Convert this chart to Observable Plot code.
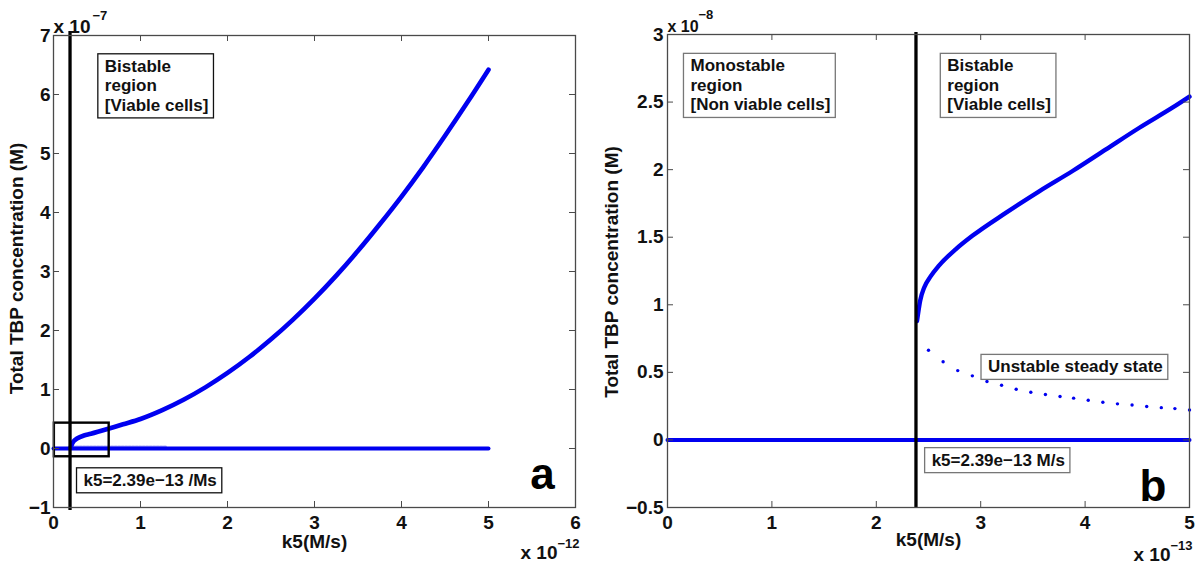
<!DOCTYPE html>
<html><head><meta charset="utf-8">
<script src="https://cdn.jsdelivr.net/npm/d3@7"></script>
<script src="https://cdn.jsdelivr.net/npm/@observablehq/plot@0.6"></script>
<style>
html,body{margin:0;padding:0;background:#fff;}
body{width:1200px;height:578px;position:relative;overflow:hidden;font-family:"Liberation Sans",Arial,sans-serif;}
#pa,#pb{position:absolute;top:0;}
#pa{left:0;} #pb{left:600px;}
</style></head><body>
<div id="pa"></div><div id="pb"></div>
<script>
// ---------- Data (x in units of 1e-12 / 1e-13 M/s, y in units of 1e-7 / 1e-8 M) ----------
// Panel a
const aXTicks = [0, 1, 2, 3, 4, 5, 6];
const aYTicks = [-1, 0, 1, 2, 3, 4, 5, 6, 7];
const aUpperK   = [0.20, 0.23, 0.27, 0.35, 0.43, 0.62, 0.80, 1.00, 1.25, 1.50, 1.75, 2.00, 2.25, 2.50, 2.75, 3.00, 3.25, 3.50, 3.75, 4.00, 4.25, 4.50, 4.75, 5.00];
const aUpperTBP = [0.03, 0.12, 0.17, 0.22, 0.25, 0.33, 0.41, 0.50, 0.65, 0.83, 1.04, 1.28, 1.55, 1.85, 2.18, 2.54, 2.93, 3.35, 3.80, 4.27, 4.77, 5.30, 5.85, 6.42];
const aLowerK   = [0, 5];
const aLowerTBP = [0, 0];
const aFaintK   = [0.22, 1.30];
const aFaintTBP = [0.03, 0.03];
const aThreshold = 0.19;
const aZoomBox = {x1: 0.01, x2: 0.64, y1: -0.14, y2: 0.43};
const aRegionLabel = "Bistable\nregion\n[Viable cells]";
const aRegionPos = {x: 0.59, y: 6.62};
const aK5Label = "k5=2.39e\u221213 /Ms";
const aK5Pos = {x: 0.345, y: -0.54};
const aLetter = "a", aLetterPos = {x: 5.62, y: -0.69};
const aYExp = "\u22127", aXExp = "\u221212";

// Panel b
const bXTicks = [0, 1, 2, 3, 4, 5];
const bYTicks = [-0.5, 0, 0.5, 1, 1.5, 2, 2.5, 3];
const bUpperK   = [2.39, 2.42, 2.46, 2.52, 2.60, 2.76, 2.92, 3.24, 3.56, 3.88, 4.20, 4.52, 4.84, 5.00];
const bUpperTBP = [0.88, 1.03, 1.13, 1.21, 1.29, 1.41, 1.51, 1.68, 1.84, 1.99, 2.15, 2.31, 2.46, 2.54];
const bUnstableK   = [2.50, 2.64, 2.78, 2.92, 3.06, 3.20, 3.34, 3.48, 3.62, 3.76, 3.89, 4.03, 4.17, 4.31, 4.45, 4.59, 4.73, 4.86, 5.00];
const bUnstableTBP = [0.664, 0.578, 0.513, 0.474, 0.432, 0.405, 0.375, 0.353, 0.336, 0.321, 0.309, 0.294, 0.279, 0.267, 0.259, 0.247, 0.239, 0.232, 0.222];
const bLowerK   = [0, 5];
const bLowerTBP = [0, 0];
const bThreshold = 2.38;
const bMonoLabel = "Monostable\nregion\n[Non viable cells]";
const bMonoPos = {x: 0.22, y: 2.83};
const bBiLabel = "Bistable\nregion\n[Viable cells]";
const bBiPos = {x: 2.68, y: 2.83};
const bUnstableLabel = "Unstable steady state";
const bUnstablePos = {x: 3.07, y: 0.54};
const bK5Label = "k5=2.39e\u221213 M/s";
const bK5Pos = {x: 2.53, y: -0.15};
const bLetter = "b", bLetterPos = {x: 4.65, y: -0.45};
const bYExp = "\u22128", bXExp = "\u221213";

const xLabel = "k5(M/s)";
const yLabel = "Total TBP concentration (M)";

// ---------- helpers ----------
const BLUE = "#0000f0";
const AXIS = "#4a4a4a";
const FONT = "'Liberation Sans', Arial, Helvetica, sans-serif";
const TICKFS = 19;
const zip = (xs, ys) => xs.map((x, i) => ({x, y: ys[i]}));
const fmt = d => (d < 0 ? "\u2212" + Math.abs(d) : String(d));

function inwardTicks(xTicks, yTicks, fw, fh) {
  const L = 6;
  return [
    Plot.ruleX(xTicks, {x: d => d, insetTop: fh - L, stroke: AXIS}),
    Plot.ruleX(xTicks, {x: d => d, insetBottom: fh - L, stroke: AXIS}),
    Plot.ruleY(yTicks, {y: d => d, insetRight: fw - L, stroke: AXIS}),
    Plot.ruleY(yTicks, {y: d => d, insetLeft: fw - L, stroke: AXIS})
  ];
}

function boxLabel(label, pos) {
  return Plot.text([label], {x: () => pos.x, y: () => pos.y, text: d => d,
    textAnchor: "start", lineAnchor: "top", lineHeight: 1.15, fontSize: 17, fontWeight: "bold", fill: "#111"});
}
function lineLabel(label, pos) {
  return Plot.text([label], {x: () => pos.x, y: () => pos.y, text: d => d,
    textAnchor: "start", lineAnchor: "middle", fontSize: 17, fontWeight: "bold", fill: "#111"});
}

function exponents(yExp, xExp, topFs, topDx, botDx, botDy) {
  return [
    Plot.text(["x 10"], {frameAnchor: "top-left", text: d => d, textAnchor: "start", lineAnchor: "bottom", dy: -3, fontSize: topFs, fontWeight: "bold"}),
    Plot.text([yExp], {frameAnchor: "top-left", text: d => d, textAnchor: "start", lineAnchor: "bottom", dx: topDx, dy: -16, fontSize: 13, fontWeight: "bold"}),
    Plot.text(["x 10"], {frameAnchor: "bottom-right", text: d => d, textAnchor: "end", lineAnchor: "bottom", dx: botDx, dy: botDy, fontSize: 19, fontWeight: "bold"}),
    Plot.text([xExp], {frameAnchor: "bottom-right", text: d => d, textAnchor: "start", lineAnchor: "bottom", dx: botDx, dy: botDy - 11, fontSize: 13, fontWeight: "bold"})
  ];
}

function addBoxes(svg, labels, stroke) {
  const wanted = labels.map(s => s.replace(/\n/g, ""));
  svg.querySelectorAll("text").forEach(t => {
    if (!wanted.includes(t.textContent)) return;
    const b = t.getBBox();
    const r = document.createElementNS("http://www.w3.org/2000/svg", "rect");
    r.setAttribute("x", b.x - 7);
    r.setAttribute("y", b.y - 3);
    r.setAttribute("width", b.width + 12);
    r.setAttribute("height", b.height + 6);
    r.setAttribute("fill", "white");
    r.setAttribute("stroke", stroke);
    r.setAttribute("stroke-width", 1.3);
    if (t.getAttribute("transform")) r.setAttribute("transform", t.getAttribute("transform"));
    t.parentNode.insertBefore(r, t);
  });
}

// ---------- Panel a ----------
{
  const m = {l: 53, r: 25, t: 35, b: 71};
  const W = 600, H = 578, fw = W - m.l - m.r, fh = H - m.t - m.b;
  const svg = Plot.plot({
    width: W, height: H,
    marginLeft: m.l, marginRight: m.r, marginTop: m.t, marginBottom: m.b,
    style: {fontFamily: FONT, fontSize: "17px", fontWeight: "bold", color: "#111", background: "white", overflow: "visible"},
    x: {domain: [0, 6]},
    y: {domain: [-1, 7]},
    marks: [
      Plot.line(zip(aFaintK, aFaintTBP), {x: "x", y: "y", stroke: "#6f6ff5", strokeWidth: 2.5, strokeDasharray: "2,1.5", strokeOpacity: 0.6}),
      Plot.line(zip(aLowerK, aLowerTBP), {x: "x", y: "y", stroke: BLUE, strokeWidth: 4}),
      Plot.line(zip(aUpperK, aUpperTBP), {x: "x", y: "y", stroke: BLUE, strokeWidth: 4.6, curve: "catmull-rom"}),
      Plot.rect([aZoomBox], {x1: "x1", x2: "x2", y1: "y1", y2: "y2", fill: "none", stroke: "#000", strokeWidth: 2.4}),
      Plot.ruleX([aThreshold], {x: d => d, stroke: "#000", strokeWidth: 3.3, insetTop: -4, insetBottom: -3}),
      Plot.frame({stroke: AXIS, strokeWidth: 1.3}),
      ...inwardTicks(aXTicks, aYTicks, fw, fh),
      Plot.axisX({ticks: aXTicks, tickFormat: fmt, tickSize: 0, tickPadding: 8, fontSize: TICKFS, label: null}),
      Plot.axisY({ticks: aYTicks, tickFormat: fmt, tickSize: 0, tickPadding: 3, fontSize: TICKFS, label: null}),
      Plot.text([xLabel], {frameAnchor: "bottom", text: d => d, textAnchor: "middle", lineAnchor: "middle", dy: 34, fontSize: 19, fontWeight: "bold"}),
      Plot.text([yLabel], {frameAnchor: "left", text: d => d, rotate: -90, textAnchor: "middle", lineAnchor: "middle", dx: -37, dy: -3, fontSize: 19, fontWeight: "bold"}),
      ...exponents(aYExp, aXExp, 19, 39, -18, 51),
      boxLabel(aRegionLabel, aRegionPos),
      lineLabel(aK5Label, aK5Pos),
      Plot.text([aLetter], {x: () => aLetterPos.x, y: () => aLetterPos.y, text: d => d, textAnchor: "middle", lineAnchor: "bottom", fontSize: 44, fontWeight: "bold", fill: "#000"})
    ]
  });
  document.getElementById("pa").appendChild(svg);
  addBoxes(svg, [aRegionLabel, aK5Label], "#111");
}

// ---------- Panel b ----------
{
  const m = {l: 67, r: 11, t: 34, b: 71};
  const W = 600, H = 578, fw = W - m.l - m.r, fh = H - m.t - m.b;
  const svg = Plot.plot({
    width: W, height: H,
    marginLeft: m.l, marginRight: m.r, marginTop: m.t, marginBottom: m.b,
    style: {fontFamily: FONT, fontSize: "17px", fontWeight: "bold", color: "#111", background: "white", overflow: "visible"},
    x: {domain: [0, 5]},
    y: {domain: [-0.5, 3]},
    marks: [
      Plot.line(zip(bLowerK, bLowerTBP), {x: "x", y: "y", stroke: BLUE, strokeWidth: 4}),
      Plot.line(zip(bUpperK, bUpperTBP), {x: "x", y: "y", stroke: BLUE, strokeWidth: 4.4, curve: "monotone-x"}),
      Plot.dot(zip(bUnstableK, bUnstableTBP), {x: "x", y: "y", r: 1.7, fill: BLUE, stroke: "none"}),
      Plot.ruleX([bThreshold], {x: d => d, stroke: "#000", strokeWidth: 3.3, insetTop: -2, insetBottom: 0}),
      Plot.frame({stroke: AXIS, strokeWidth: 1.3}),
      ...inwardTicks(bXTicks, bYTicks, fw, fh),
      Plot.axisX({ticks: bXTicks, tickFormat: fmt, tickSize: 0, tickPadding: 8, fontSize: TICKFS, label: null}),
      Plot.axisY({ticks: bYTicks, tickFormat: fmt, tickSize: 0, tickPadding: 4, fontSize: TICKFS, label: null}),
      Plot.text([xLabel], {frameAnchor: "bottom", text: d => d, textAnchor: "middle", lineAnchor: "middle", dy: 32, fontSize: 19, fontWeight: "bold"}),
      Plot.text([yLabel], {frameAnchor: "left", text: d => d, rotate: -90, textAnchor: "middle", lineAnchor: "middle", dx: -56, dy: 1, fontSize: 19, fontWeight: "bold"}),
      ...exponents(bYExp, bXExp, 16, 31, -19, 53),
      boxLabel(bMonoLabel, bMonoPos),
      boxLabel(bBiLabel, bBiPos),
      lineLabel(bUnstableLabel, bUnstablePos),
      lineLabel(bK5Label, bK5Pos),
      Plot.text([bLetter], {x: () => bLetterPos.x, y: () => bLetterPos.y, text: d => d, textAnchor: "middle", lineAnchor: "bottom", fontSize: 44, fontWeight: "bold", fill: "#000"})
    ]
  });
  document.getElementById("pb").appendChild(svg);
  addBoxes(svg, [bMonoLabel, bBiLabel, bUnstableLabel, bK5Label], "#777");
}
</script>
</body></html>
